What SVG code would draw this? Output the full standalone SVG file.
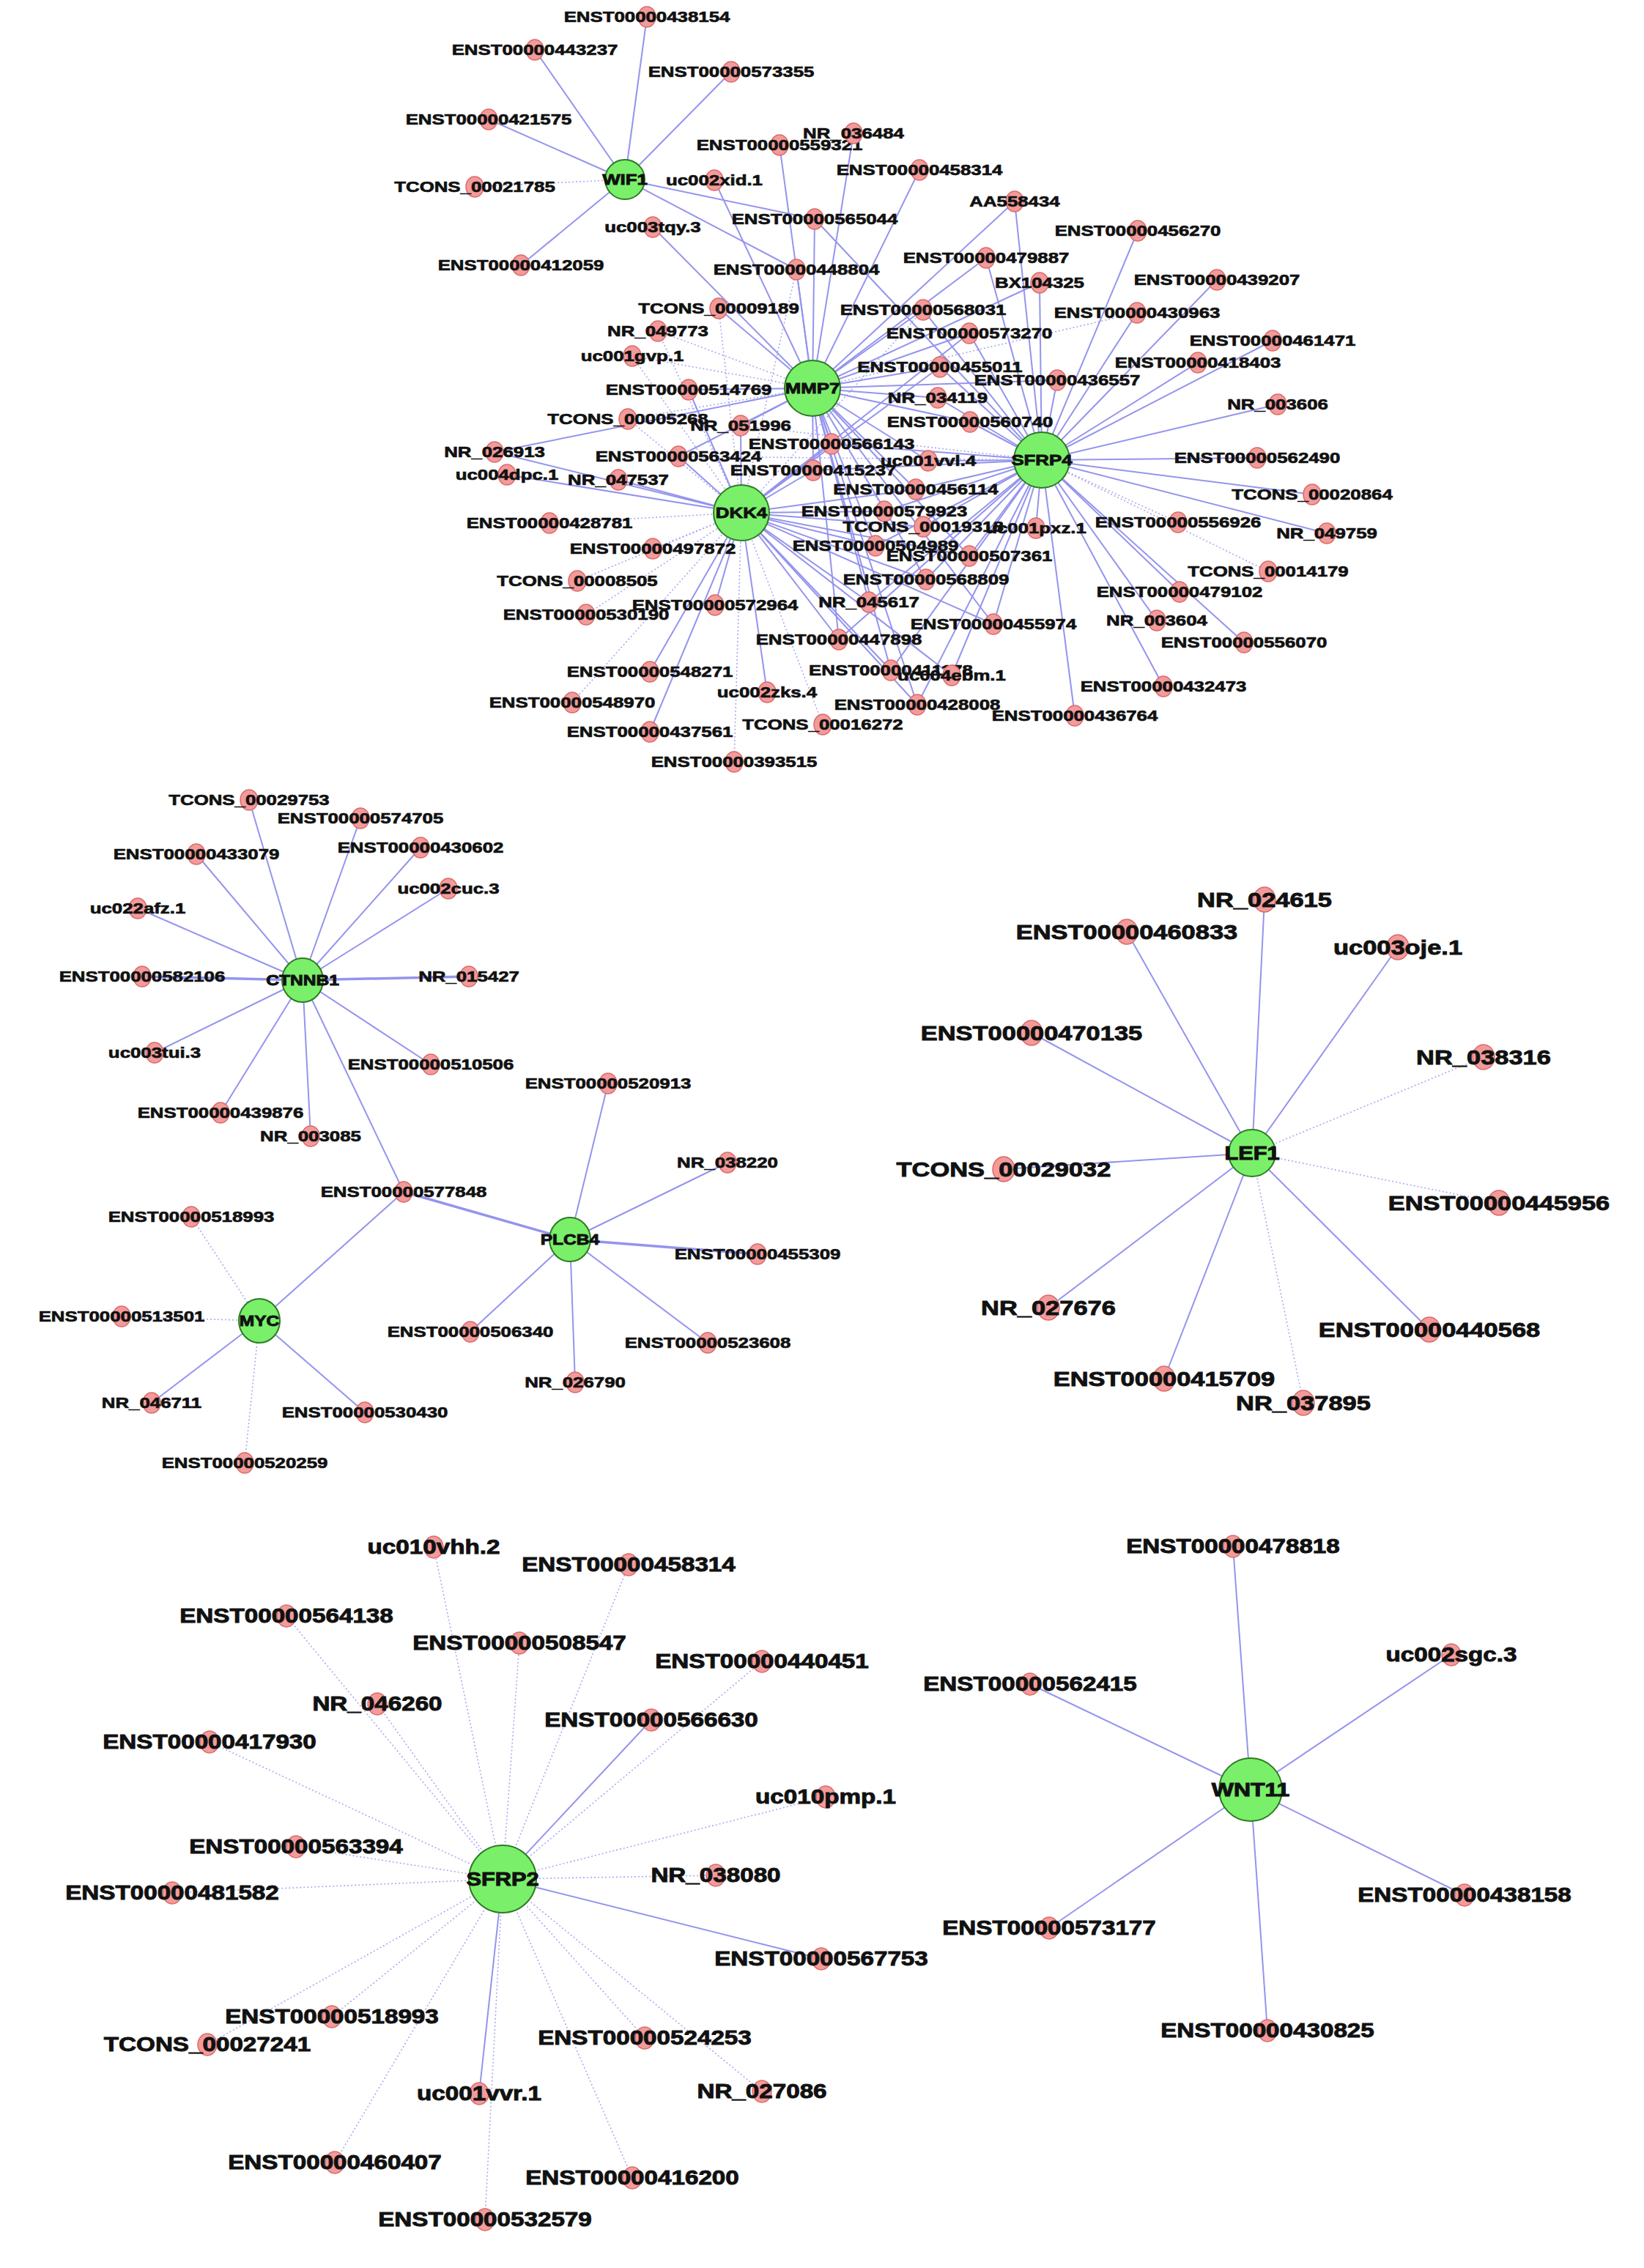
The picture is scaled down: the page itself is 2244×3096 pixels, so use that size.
<svg xmlns="http://www.w3.org/2000/svg" width="2244" height="3096" viewBox="0 0 2244 3096">
<style>
.e{stroke:#9494ee;stroke-width:2;fill:none}
.d{stroke:#a9a9f0;stroke-width:1.6;stroke-dasharray:2 3;fill:none}
.t{stroke-width:3.5}
.r{fill:#f39a9a;stroke:#dc6a6a;stroke-width:1.5}
.g{fill:#7af06a;stroke:#2e7a24;stroke-width:2}
text{font-family:"Liberation Sans",Arial,sans-serif;font-weight:bold;fill:#111;stroke:#111;stroke-width:0.7px;text-anchor:middle;transform-box:fill-box;transform-origin:center;transform:scaleX(1.23)}
.s1{font-size:21px}.s2{font-size:27px;stroke-width:0.9px}.s3{font-size:28px;stroke-width:0.9px}.h1{font-size:21px;stroke-width:0.9px}.h2{font-size:25px;stroke-width:1px}
</style>
<rect width="2244" height="3096" fill="#ffffff"/>
<g id="connectors">
<!-- WIF1 -->
<line class="e" x1="853" y1="245" x2="883" y2="23"/>
<line class="e" x1="853" y1="245" x2="730" y2="68"/>
<line class="e" x1="853" y1="245" x2="998" y2="98"/>
<line class="e" x1="853" y1="245" x2="667" y2="163"/>
<line class="d" x1="853" y1="245" x2="648" y2="255"/>
<line class="e" x1="853" y1="245" x2="711" y2="362"/>
<line class="e" x1="853" y1="245" x2="1112" y2="299"/>
<line class="e" x1="853" y1="245" x2="1087" y2="368"/>
<!-- MMP7 -->
<line class="e" x1="1109" y1="530" x2="975" y2="246"/>
<line class="e" x1="1109" y1="530" x2="891" y2="310"/>
<line class="e" x1="1109" y1="530" x2="1064" y2="198"/>
<line class="e" x1="1109" y1="530" x2="1165" y2="182"/>
<line class="e" x1="1109" y1="530" x2="1112" y2="299"/>
<line class="e" x1="1109" y1="530" x2="1087" y2="368"/>
<line class="e" x1="1109" y1="530" x2="1255" y2="232"/>
<line class="e" x1="1109" y1="530" x2="1385" y2="275"/>
<line class="e" x1="1109" y1="530" x2="1346" y2="352"/>
<line class="e" x1="1109" y1="530" x2="1419" y2="386"/>
<line class="e" x1="1109" y1="530" x2="981" y2="421"/>
<line class="d" x1="1109" y1="530" x2="898" y2="452"/>
<line class="d" x1="1109" y1="530" x2="863" y2="486"/>
<line class="e" x1="1109" y1="530" x2="940" y2="532"/>
<line class="d" x1="1109" y1="530" x2="857" y2="572"/>
<line class="e" x1="1109" y1="530" x2="1011" y2="581"/>
<line class="e" x1="1109" y1="530" x2="675" y2="617"/>
<line class="e" x1="1109" y1="530" x2="926" y2="623"/>
<line class="e" x1="1109" y1="530" x2="1260" y2="423"/>
<line class="e" x1="1109" y1="530" x2="1323" y2="455"/>
<line class="e" x1="1109" y1="530" x2="1283" y2="501"/>
<line class="e" x1="1109" y1="530" x2="1443" y2="519"/>
<line class="e" x1="1109" y1="530" x2="1280" y2="543"/>
<line class="e" x1="1109" y1="530" x2="1324" y2="576"/>
<line class="e" x1="1109" y1="530" x2="1135" y2="606"/>
<line class="e" x1="1109" y1="530" x2="1267" y2="629"/>
<line class="e" x1="1109" y1="530" x2="1110" y2="642"/>
<line class="e" x1="1109" y1="530" x2="1250" y2="668"/>
<line class="e" x1="1109" y1="530" x2="1195" y2="745"/>
<line class="e" x1="1109" y1="530" x2="1323" y2="759"/>
<line class="e" x1="1109" y1="530" x2="1264" y2="791"/>
<line class="e" x1="1109" y1="530" x2="1186" y2="822"/>
<line class="e" x1="1109" y1="530" x2="1356" y2="852"/>
<line class="e" x1="1109" y1="530" x2="1145" y2="873"/>
<line class="e" x1="1109" y1="530" x2="1216" y2="915"/>
<line class="e" x1="1109" y1="530" x2="1252" y2="962"/>
<line class="d" x1="1109" y1="530" x2="1552" y2="427"/>
<line class="d" x1="1109" y1="530" x2="1207" y2="698"/>
<!-- SFRP4 -->
<line class="e" x1="1422" y1="628" x2="1112" y2="299"/>
<line class="e" x1="1422" y1="628" x2="1385" y2="275"/>
<line class="e" x1="1422" y1="628" x2="1553" y2="315"/>
<line class="e" x1="1422" y1="628" x2="1346" y2="352"/>
<line class="e" x1="1422" y1="628" x2="1419" y2="386"/>
<line class="e" x1="1422" y1="628" x2="1661" y2="382"/>
<line class="e" x1="1422" y1="628" x2="1260" y2="423"/>
<line class="e" x1="1422" y1="628" x2="1552" y2="427"/>
<line class="e" x1="1422" y1="628" x2="1323" y2="455"/>
<line class="e" x1="1422" y1="628" x2="1737" y2="465"/>
<line class="e" x1="1422" y1="628" x2="1635" y2="495"/>
<line class="e" x1="1422" y1="628" x2="1283" y2="501"/>
<line class="e" x1="1422" y1="628" x2="1443" y2="519"/>
<line class="e" x1="1422" y1="628" x2="1280" y2="543"/>
<line class="e" x1="1422" y1="628" x2="1744" y2="552"/>
<line class="e" x1="1422" y1="628" x2="1324" y2="576"/>
<line class="e" x1="1422" y1="628" x2="1135" y2="606"/>
<line class="e" x1="1422" y1="628" x2="1267" y2="629"/>
<line class="e" x1="1422" y1="628" x2="1716" y2="625"/>
<line class="e" x1="1422" y1="628" x2="1110" y2="642"/>
<line class="e" x1="1422" y1="628" x2="1250" y2="668"/>
<line class="e" x1="1422" y1="628" x2="1791" y2="675"/>
<line class="e" x1="1422" y1="628" x2="1207" y2="698"/>
<line class="e" x1="1422" y1="628" x2="1260" y2="719"/>
<line class="e" x1="1422" y1="628" x2="1414" y2="721"/>
<line class="d" x1="1422" y1="628" x2="1608" y2="713"/>
<line class="e" x1="1422" y1="628" x2="1811" y2="728"/>
<line class="e" x1="1422" y1="628" x2="1195" y2="745"/>
<line class="e" x1="1422" y1="628" x2="1323" y2="759"/>
<line class="e" x1="1422" y1="628" x2="1264" y2="791"/>
<line class="d" x1="1422" y1="628" x2="1731" y2="780"/>
<line class="e" x1="1422" y1="628" x2="1610" y2="808"/>
<line class="e" x1="1422" y1="628" x2="1186" y2="822"/>
<line class="e" x1="1422" y1="628" x2="1579" y2="847"/>
<line class="e" x1="1422" y1="628" x2="1356" y2="852"/>
<line class="e" x1="1422" y1="628" x2="1145" y2="873"/>
<line class="e" x1="1422" y1="628" x2="1698" y2="877"/>
<line class="e" x1="1422" y1="628" x2="1216" y2="915"/>
<line class="e" x1="1422" y1="628" x2="1299" y2="922"/>
<line class="e" x1="1422" y1="628" x2="1252" y2="962"/>
<line class="e" x1="1422" y1="628" x2="1588" y2="937"/>
<line class="e" x1="1422" y1="628" x2="1467" y2="977"/>
<line class="d" x1="1422" y1="628" x2="926" y2="623"/>
<line class="d" x1="1422" y1="628" x2="1011" y2="581"/>
<!-- DKK4 -->
<line class="d" x1="1012" y1="700" x2="981" y2="421"/>
<line class="d" x1="1012" y1="700" x2="898" y2="452"/>
<line class="d" x1="1012" y1="700" x2="863" y2="486"/>
<line class="e" x1="1012" y1="700" x2="940" y2="532"/>
<line class="d" x1="1012" y1="700" x2="857" y2="572"/>
<line class="e" x1="1012" y1="700" x2="1011" y2="581"/>
<line class="e" x1="1012" y1="700" x2="675" y2="617"/>
<line class="e" x1="1012" y1="700" x2="926" y2="623"/>
<line class="e" x1="1012" y1="700" x2="692" y2="648"/>
<line class="e" x1="1012" y1="700" x2="844" y2="655"/>
<line class="d" x1="1012" y1="700" x2="750" y2="714"/>
<line class="e" x1="1012" y1="700" x2="1135" y2="606"/>
<line class="e" x1="1012" y1="700" x2="1110" y2="642"/>
<line class="e" x1="1012" y1="700" x2="1250" y2="668"/>
<line class="e" x1="1012" y1="700" x2="1207" y2="698"/>
<line class="e" x1="1012" y1="700" x2="1260" y2="719"/>
<line class="e" x1="1012" y1="700" x2="1195" y2="745"/>
<line class="e" x1="1012" y1="700" x2="1323" y2="759"/>
<line class="d" x1="1012" y1="700" x2="891" y2="749"/>
<line class="d" x1="1012" y1="700" x2="788" y2="793"/>
<line class="e" x1="1012" y1="700" x2="1264" y2="791"/>
<line class="e" x1="1012" y1="700" x2="1186" y2="822"/>
<line class="e" x1="1012" y1="700" x2="976" y2="826"/>
<line class="d" x1="1012" y1="700" x2="800" y2="839"/>
<line class="e" x1="1012" y1="700" x2="1356" y2="852"/>
<line class="e" x1="1012" y1="700" x2="1145" y2="873"/>
<line class="e" x1="1012" y1="700" x2="1216" y2="915"/>
<line class="e" x1="1012" y1="700" x2="1299" y2="922"/>
<line class="e" x1="1012" y1="700" x2="887" y2="917"/>
<line class="e" x1="1012" y1="700" x2="1047" y2="945"/>
<line class="d" x1="1012" y1="700" x2="781" y2="959"/>
<line class="e" x1="1012" y1="700" x2="1252" y2="962"/>
<line class="e" x1="1012" y1="700" x2="887" y2="999"/>
<line class="d" x1="1012" y1="700" x2="1123" y2="989"/>
<line class="d" x1="1012" y1="700" x2="1002" y2="1040"/>
<line class="e" x1="1012" y1="700" x2="1283" y2="501"/>
<line class="e" x1="1012" y1="700" x2="1323" y2="455"/>
<line class="d" x1="1012" y1="700" x2="1260" y2="423"/>
<line class="d" x1="1012" y1="700" x2="1087" y2="368"/>
<!-- CTNNB1 / PLCB4 / MYC -->
<line class="e" x1="413" y1="1338" x2="340" y2="1092"/>
<line class="e" x1="413" y1="1338" x2="492" y2="1117"/>
<line class="e" x1="413" y1="1338" x2="268" y2="1166"/>
<line class="e" x1="413" y1="1338" x2="574" y2="1157"/>
<line class="e" x1="413" y1="1338" x2="612" y2="1213"/>
<line class="e" x1="413" y1="1338" x2="188" y2="1240"/>
<line class="e t" x1="413" y1="1338" x2="194" y2="1333"/>
<line class="e t" x1="413" y1="1338" x2="640" y2="1333"/>
<line class="e" x1="413" y1="1338" x2="211" y2="1437"/>
<line class="e" x1="413" y1="1338" x2="588" y2="1453"/>
<line class="e" x1="413" y1="1338" x2="301" y2="1519"/>
<line class="e" x1="413" y1="1338" x2="424" y2="1551"/>
<line class="e" x1="413" y1="1338" x2="551" y2="1627"/>
<line class="e t" x1="551" y1="1627" x2="778" y2="1692"/>
<line class="e" x1="551" y1="1627" x2="354" y2="1803"/>
<line class="e" x1="778" y1="1692" x2="830" y2="1479"/>
<line class="e" x1="778" y1="1692" x2="993" y2="1587"/>
<line class="e t" x1="778" y1="1692" x2="1034" y2="1712"/>
<line class="e" x1="778" y1="1692" x2="642" y2="1818"/>
<line class="e" x1="778" y1="1692" x2="785" y2="1887"/>
<line class="e" x1="778" y1="1692" x2="966" y2="1833"/>
<line class="d" x1="354" y1="1803" x2="261" y2="1661"/>
<line class="d" x1="354" y1="1803" x2="166" y2="1797"/>
<line class="e" x1="354" y1="1803" x2="207" y2="1915"/>
<line class="e" x1="354" y1="1803" x2="498" y2="1928"/>
<line class="d" x1="354" y1="1803" x2="334" y2="1997"/>
<!-- LEF1 -->
<line class="e" x1="1709" y1="1574" x2="1726" y2="1228"/>
<line class="e" x1="1709" y1="1574" x2="1538" y2="1272"/>
<line class="e" x1="1709" y1="1574" x2="1908" y2="1293"/>
<line class="e" x1="1709" y1="1574" x2="1408" y2="1410"/>
<line class="d" x1="1709" y1="1574" x2="2025" y2="1443"/>
<line class="e" x1="1709" y1="1574" x2="1370" y2="1596"/>
<line class="d" x1="1709" y1="1574" x2="2046" y2="1642"/>
<line class="e" x1="1709" y1="1574" x2="1431" y2="1785"/>
<line class="e" x1="1709" y1="1574" x2="1951" y2="1815"/>
<line class="e" x1="1709" y1="1574" x2="1589" y2="1882"/>
<line class="d" x1="1709" y1="1574" x2="1779" y2="1915"/>
<!-- SFRP2 -->
<line class="d" x1="686" y1="2565" x2="592" y2="2112"/>
<line class="d" x1="686" y1="2565" x2="858" y2="2136"/>
<line class="d" x1="686" y1="2565" x2="391" y2="2206"/>
<line class="d" x1="686" y1="2565" x2="709" y2="2243"/>
<line class="d" x1="686" y1="2565" x2="1040" y2="2268"/>
<line class="d" x1="686" y1="2565" x2="515" y2="2326"/>
<line class="e" x1="686" y1="2565" x2="889" y2="2348"/>
<line class="d" x1="686" y1="2565" x2="286" y2="2378"/>
<line class="d" x1="686" y1="2565" x2="1127" y2="2453"/>
<line class="d" x1="686" y1="2565" x2="404" y2="2521"/>
<line class="d" x1="686" y1="2565" x2="977" y2="2560"/>
<line class="d" x1="686" y1="2565" x2="235" y2="2584"/>
<line class="e" x1="686" y1="2565" x2="1121" y2="2674"/>
<line class="d" x1="686" y1="2565" x2="453" y2="2753"/>
<line class="d" x1="686" y1="2565" x2="283" y2="2791"/>
<line class="d" x1="686" y1="2565" x2="880" y2="2782"/>
<line class="d" x1="686" y1="2565" x2="1040" y2="2855"/>
<line class="e" x1="686" y1="2565" x2="654" y2="2858"/>
<line class="d" x1="686" y1="2565" x2="457" y2="2952"/>
<line class="d" x1="686" y1="2565" x2="863" y2="2973"/>
<line class="d" x1="686" y1="2565" x2="662" y2="3030"/>
<!-- WNT11 -->
<line class="e" x1="1707" y1="2443" x2="1683" y2="2111"/>
<line class="e" x1="1707" y1="2443" x2="1981" y2="2259"/>
<line class="e" x1="1707" y1="2443" x2="1406" y2="2299"/>
<line class="e" x1="1707" y1="2443" x2="1999" y2="2587"/>
<line class="e" x1="1707" y1="2443" x2="1432" y2="2632"/>
<line class="e" x1="1707" y1="2443" x2="1730" y2="2772"/>
</g>
<!-- TOP CLUSTER NODES -->
<g id="t-ENST00000438154"><ellipse class="r" cx="883" cy="23" rx="12" ry="14"/><text class="s1" x="883" y="30">ENST00000438154</text></g>
<g id="t-ENST00000443237"><ellipse class="r" cx="730" cy="68" rx="12" ry="14"/><text class="s1" x="730" y="75">ENST00000443237</text></g>
<g id="t-ENST00000573355"><ellipse class="r" cx="998" cy="98" rx="12" ry="14"/><text class="s1" x="998" y="105">ENST00000573355</text></g>
<g id="t-ENST00000421575"><ellipse class="r" cx="667" cy="163" rx="12" ry="14"/><text class="s1" x="667" y="170">ENST00000421575</text></g>
<g id="t-TCONS_00021785"><ellipse class="r" cx="648" cy="255" rx="12" ry="14"/><text class="s1" x="648" y="262">TCONS_00021785</text></g>
<g id="t-ENST00000412059"><ellipse class="r" cx="711" cy="362" rx="12" ry="14"/><text class="s1" x="711" y="369">ENST00000412059</text></g>
<g id="t-uc002xid.1"><ellipse class="r" cx="975" cy="246" rx="12" ry="14"/><text class="s1" x="975" y="253">uc002xid.1</text></g>
<g id="t-uc003tqy.3"><ellipse class="r" cx="891" cy="310" rx="12" ry="14"/><text class="s1" x="891" y="317">uc003tqy.3</text></g>
<g id="t-ENST00000559321"><ellipse class="r" cx="1064" cy="198" rx="12" ry="14"/><text class="s1" x="1064" y="205">ENST00000559321</text></g>
<g id="t-NR_036484"><ellipse class="r" cx="1165" cy="182" rx="12" ry="14"/><text class="s1" x="1165" y="189">NR_036484</text></g>
<g id="t-ENST00000565044"><ellipse class="r" cx="1112" cy="299" rx="12" ry="14"/><text class="s1" x="1112" y="306">ENST00000565044</text></g>
<g id="t-ENST00000448804"><ellipse class="r" cx="1087" cy="368" rx="12" ry="14"/><text class="s1" x="1087" y="375">ENST00000448804</text></g>
<g id="t-ENST00000458314"><ellipse class="r" cx="1255" cy="232" rx="12" ry="14"/><text class="s1" x="1255" y="239">ENST00000458314</text></g>
<g id="t-AA558434"><ellipse class="r" cx="1385" cy="275" rx="12" ry="14"/><text class="s1" x="1385" y="282">AA558434</text></g>
<g id="t-ENST00000456270"><ellipse class="r" cx="1553" cy="315" rx="12" ry="14"/><text class="s1" x="1553" y="322">ENST00000456270</text></g>
<g id="t-ENST00000479887"><ellipse class="r" cx="1346" cy="352" rx="12" ry="14"/><text class="s1" x="1346" y="359">ENST00000479887</text></g>
<g id="t-BX104325"><ellipse class="r" cx="1419" cy="386" rx="12" ry="14"/><text class="s1" x="1419" y="393">BX104325</text></g>
<g id="t-ENST00000439207"><ellipse class="r" cx="1661" cy="382" rx="12" ry="14"/><text class="s1" x="1661" y="389">ENST00000439207</text></g>
<g id="t-TCONS_00009189"><ellipse class="r" cx="981" cy="421" rx="12" ry="14"/><text class="s1" x="981" y="428">TCONS_00009189</text></g>
<g id="t-NR_049773"><ellipse class="r" cx="898" cy="452" rx="12" ry="14"/><text class="s1" x="898" y="459">NR_049773</text></g>
<g id="t-uc001gvp.1"><ellipse class="r" cx="863" cy="486" rx="12" ry="14"/><text class="s1" x="863" y="493">uc001gvp.1</text></g>
<g id="t-ENST00000514769"><ellipse class="r" cx="940" cy="532" rx="12" ry="14"/><text class="s1" x="940" y="539">ENST00000514769</text></g>
<g id="t-TCONS_00005268"><ellipse class="r" cx="857" cy="572" rx="12" ry="14"/><text class="s1" x="857" y="579">TCONS_00005268</text></g>
<g id="t-NR_051996"><ellipse class="r" cx="1011" cy="581" rx="12" ry="14"/><text class="s1" x="1011" y="588">NR_051996</text></g>
<g id="t-NR_026913"><ellipse class="r" cx="675" cy="617" rx="12" ry="14"/><text class="s1" x="675" y="624">NR_026913</text></g>
<g id="t-ENST00000563424"><ellipse class="r" cx="926" cy="623" rx="12" ry="14"/><text class="s1" x="926" y="630">ENST00000563424</text></g>
<g id="t-uc004dpc.1"><ellipse class="r" cx="692" cy="648" rx="12" ry="14"/><text class="s1" x="692" y="655">uc004dpc.1</text></g>
<g id="t-NR_047537"><ellipse class="r" cx="844" cy="655" rx="12" ry="14"/><text class="s1" x="844" y="662">NR_047537</text></g>
<g id="t-ENST00000428781"><ellipse class="r" cx="750" cy="714" rx="12" ry="14"/><text class="s1" x="750" y="721">ENST00000428781</text></g>
<g id="t-ENST00000568031"><ellipse class="r" cx="1260" cy="423" rx="12" ry="14"/><text class="s1" x="1260" y="430">ENST00000568031</text></g>
<g id="t-ENST00000430963"><ellipse class="r" cx="1552" cy="427" rx="12" ry="14"/><text class="s1" x="1552" y="434">ENST00000430963</text></g>
<g id="t-ENST00000573270"><ellipse class="r" cx="1323" cy="455" rx="12" ry="14"/><text class="s1" x="1323" y="462">ENST00000573270</text></g>
<g id="t-ENST00000461471"><ellipse class="r" cx="1737" cy="465" rx="12" ry="14"/><text class="s1" x="1737" y="472">ENST00000461471</text></g>
<g id="t-ENST00000418403"><ellipse class="r" cx="1635" cy="495" rx="12" ry="14"/><text class="s1" x="1635" y="502">ENST00000418403</text></g>
<g id="t-ENST00000455011"><ellipse class="r" cx="1283" cy="501" rx="12" ry="14"/><text class="s1" x="1283" y="508">ENST00000455011</text></g>
<g id="t-ENST00000436557"><ellipse class="r" cx="1443" cy="519" rx="12" ry="14"/><text class="s1" x="1443" y="526">ENST00000436557</text></g>
<g id="t-NR_034119"><ellipse class="r" cx="1280" cy="543" rx="12" ry="14"/><text class="s1" x="1280" y="550">NR_034119</text></g>
<g id="t-NR_003606"><ellipse class="r" cx="1744" cy="552" rx="12" ry="14"/><text class="s1" x="1744" y="559">NR_003606</text></g>
<g id="t-ENST00000560740"><ellipse class="r" cx="1324" cy="576" rx="12" ry="14"/><text class="s1" x="1324" y="583">ENST00000560740</text></g>
<g id="t-ENST00000566143"><ellipse class="r" cx="1135" cy="606" rx="12" ry="14"/><text class="s1" x="1135" y="613">ENST00000566143</text></g>
<g id="t-uc001vvl.4"><ellipse class="r" cx="1267" cy="629" rx="12" ry="14"/><text class="s1" x="1267" y="636">uc001vvl.4</text></g>
<g id="t-ENST00000562490"><ellipse class="r" cx="1716" cy="625" rx="12" ry="14"/><text class="s1" x="1716" y="632">ENST00000562490</text></g>
<g id="t-ENST00000415237"><ellipse class="r" cx="1110" cy="642" rx="12" ry="14"/><text class="s1" x="1110" y="649">ENST00000415237</text></g>
<g id="t-ENST00000456114"><ellipse class="r" cx="1250" cy="668" rx="12" ry="14"/><text class="s1" x="1250" y="675">ENST00000456114</text></g>
<g id="t-TCONS_00020864"><ellipse class="r" cx="1791" cy="675" rx="12" ry="14"/><text class="s1" x="1791" y="682">TCONS_00020864</text></g>
<g id="t-ENST00000579923"><ellipse class="r" cx="1207" cy="698" rx="12" ry="14"/><text class="s1" x="1207" y="705">ENST00000579923</text></g>
<g id="t-TCONS_00019318"><ellipse class="r" cx="1260" cy="719" rx="12" ry="14"/><text class="s1" x="1260" y="726">TCONS_00019318</text></g>
<g id="t-uc001pxz.1"><ellipse class="r" cx="1414" cy="721" rx="12" ry="14"/><text class="s1" x="1414" y="728">uc001pxz.1</text></g>
<g id="t-ENST00000556926"><ellipse class="r" cx="1608" cy="713" rx="12" ry="14"/><text class="s1" x="1608" y="720">ENST00000556926</text></g>
<g id="t-NR_049759"><ellipse class="r" cx="1811" cy="728" rx="12" ry="14"/><text class="s1" x="1811" y="735">NR_049759</text></g>
<g id="t-ENST00000504989"><ellipse class="r" cx="1195" cy="745" rx="12" ry="14"/><text class="s1" x="1195" y="752">ENST00000504989</text></g>
<g id="t-ENST00000507361"><ellipse class="r" cx="1323" cy="759" rx="12" ry="14"/><text class="s1" x="1323" y="766">ENST00000507361</text></g>
<g id="t-ENST00000497872"><ellipse class="r" cx="891" cy="749" rx="12" ry="14"/><text class="s1" x="891" y="756">ENST00000497872</text></g>
<g id="t-TCONS_00008505"><ellipse class="r" cx="788" cy="793" rx="12" ry="14"/><text class="s1" x="788" y="800">TCONS_00008505</text></g>
<g id="t-ENST00000568809"><ellipse class="r" cx="1264" cy="791" rx="12" ry="14"/><text class="s1" x="1264" y="798">ENST00000568809</text></g>
<g id="t-TCONS_00014179"><ellipse class="r" cx="1731" cy="780" rx="12" ry="14"/><text class="s1" x="1731" y="787">TCONS_00014179</text></g>
<g id="t-ENST00000479102"><ellipse class="r" cx="1610" cy="808" rx="12" ry="14"/><text class="s1" x="1610" y="815">ENST00000479102</text></g>
<g id="t-NR_045617"><ellipse class="r" cx="1186" cy="822" rx="12" ry="14"/><text class="s1" x="1186" y="829">NR_045617</text></g>
<g id="t-ENST00000572964"><ellipse class="r" cx="976" cy="826" rx="12" ry="14"/><text class="s1" x="976" y="833">ENST00000572964</text></g>
<g id="t-ENST00000530190"><ellipse class="r" cx="800" cy="839" rx="12" ry="14"/><text class="s1" x="800" y="846">ENST00000530190</text></g>
<g id="t-NR_003604"><ellipse class="r" cx="1579" cy="847" rx="12" ry="14"/><text class="s1" x="1579" y="854">NR_003604</text></g>
<g id="t-ENST00000455974"><ellipse class="r" cx="1356" cy="852" rx="12" ry="14"/><text class="s1" x="1356" y="859">ENST00000455974</text></g>
<g id="t-ENST00000447898"><ellipse class="r" cx="1145" cy="873" rx="12" ry="14"/><text class="s1" x="1145" y="880">ENST00000447898</text></g>
<g id="t-ENST00000556070"><ellipse class="r" cx="1698" cy="877" rx="12" ry="14"/><text class="s1" x="1698" y="884">ENST00000556070</text></g>
<g id="t-ENST00000411178"><ellipse class="r" cx="1216" cy="915" rx="12" ry="14"/><text class="s1" x="1216" y="922">ENST00000411178</text></g>
<g id="t-uc004ebm.1"><ellipse class="r" cx="1299" cy="922" rx="12" ry="14"/><text class="s1" x="1299" y="929">uc004ebm.1</text></g>
<g id="t-ENST00000548271"><ellipse class="r" cx="887" cy="917" rx="12" ry="14"/><text class="s1" x="887" y="924">ENST00000548271</text></g>
<g id="t-uc002zks.4"><ellipse class="r" cx="1047" cy="945" rx="12" ry="14"/><text class="s1" x="1047" y="952">uc002zks.4</text></g>
<g id="t-ENST00000548970"><ellipse class="r" cx="781" cy="959" rx="12" ry="14"/><text class="s1" x="781" y="966">ENST00000548970</text></g>
<g id="t-ENST00000428008"><ellipse class="r" cx="1252" cy="962" rx="12" ry="14"/><text class="s1" x="1252" y="969">ENST00000428008</text></g>
<g id="t-ENST00000432473"><ellipse class="r" cx="1588" cy="937" rx="12" ry="14"/><text class="s1" x="1588" y="944">ENST00000432473</text></g>
<g id="t-ENST00000436764"><ellipse class="r" cx="1467" cy="977" rx="12" ry="14"/><text class="s1" x="1467" y="984">ENST00000436764</text></g>
<g id="t-ENST00000437561"><ellipse class="r" cx="887" cy="999" rx="12" ry="14"/><text class="s1" x="887" y="1006">ENST00000437561</text></g>
<g id="t-TCONS_00016272"><ellipse class="r" cx="1123" cy="989" rx="12" ry="14"/><text class="s1" x="1123" y="996">TCONS_00016272</text></g>
<g id="t-ENST00000393515"><ellipse class="r" cx="1002" cy="1040" rx="12" ry="14"/><text class="s1" x="1002" y="1047">ENST00000393515</text></g>
<g id="t-WIF1"><circle class="g" cx="853" cy="245" r="27"/><text class="h1" x="853" y="252">WIF1</text></g>
<g id="t-MMP7"><circle class="g" cx="1109" cy="530" r="38"/><text class="h1" x="1109" y="537">MMP7</text></g>
<g id="t-DKK4"><circle class="g" cx="1012" cy="700" r="38"/><text class="h1" x="1012" y="707">DKK4</text></g>
<g id="t-SFRP4"><circle class="g" cx="1422" cy="628" r="38"/><text class="h1" x="1422" y="635">SFRP4</text></g>
<!-- MIDDLE LEFT -->
<g id="m-TCONS_00029753"><ellipse class="r" cx="340" cy="1092" rx="12" ry="14"/><text class="s1" x="340" y="1099">TCONS_00029753</text></g>
<g id="m-ENST00000574705"><ellipse class="r" cx="492" cy="1117" rx="12" ry="14"/><text class="s1" x="492" y="1124">ENST00000574705</text></g>
<g id="m-ENST00000433079"><ellipse class="r" cx="268" cy="1166" rx="12" ry="14"/><text class="s1" x="268" y="1173">ENST00000433079</text></g>
<g id="m-ENST00000430602"><ellipse class="r" cx="574" cy="1157" rx="12" ry="14"/><text class="s1" x="574" y="1164">ENST00000430602</text></g>
<g id="m-uc002cuc.3"><ellipse class="r" cx="612" cy="1213" rx="12" ry="14"/><text class="s1" x="612" y="1220">uc002cuc.3</text></g>
<g id="m-uc022afz.1"><ellipse class="r" cx="188" cy="1240" rx="12" ry="14"/><text class="s1" x="188" y="1247">uc022afz.1</text></g>
<g id="m-ENST00000582106"><ellipse class="r" cx="194" cy="1333" rx="12" ry="14"/><text class="s1" x="194" y="1340">ENST00000582106</text></g>
<g id="m-NR_015427"><ellipse class="r" cx="640" cy="1333" rx="12" ry="14"/><text class="s1" x="640" y="1340">NR_015427</text></g>
<g id="m-uc003tui.3"><ellipse class="r" cx="211" cy="1437" rx="12" ry="14"/><text class="s1" x="211" y="1444">uc003tui.3</text></g>
<g id="m-ENST00000510506"><ellipse class="r" cx="588" cy="1453" rx="12" ry="14"/><text class="s1" x="588" y="1460">ENST00000510506</text></g>
<g id="m-ENST00000439876"><ellipse class="r" cx="301" cy="1519" rx="12" ry="14"/><text class="s1" x="301" y="1526">ENST00000439876</text></g>
<g id="m-NR_003085"><ellipse class="r" cx="424" cy="1551" rx="12" ry="14"/><text class="s1" x="424" y="1558">NR_003085</text></g>
<g id="m-ENST00000577848"><ellipse class="r" cx="551" cy="1627" rx="12" ry="14"/><text class="s1" x="551" y="1634">ENST00000577848</text></g>
<g id="m-ENST00000520913"><ellipse class="r" cx="830" cy="1479" rx="12" ry="14"/><text class="s1" x="830" y="1486">ENST00000520913</text></g>
<g id="m-NR_038220"><ellipse class="r" cx="993" cy="1587" rx="12" ry="14"/><text class="s1" x="993" y="1594">NR_038220</text></g>
<g id="m-ENST00000455309"><ellipse class="r" cx="1034" cy="1712" rx="12" ry="14"/><text class="s1" x="1034" y="1719">ENST00000455309</text></g>
<g id="m-ENST00000518993"><ellipse class="r" cx="261" cy="1661" rx="12" ry="14"/><text class="s1" x="261" y="1668">ENST00000518993</text></g>
<g id="m-ENST00000513501"><ellipse class="r" cx="166" cy="1797" rx="12" ry="14"/><text class="s1" x="166" y="1804">ENST00000513501</text></g>
<g id="m-ENST00000506340"><ellipse class="r" cx="642" cy="1818" rx="12" ry="14"/><text class="s1" x="642" y="1825">ENST00000506340</text></g>
<g id="m-ENST00000523608"><ellipse class="r" cx="966" cy="1833" rx="12" ry="14"/><text class="s1" x="966" y="1840">ENST00000523608</text></g>
<g id="m-NR_026790"><ellipse class="r" cx="785" cy="1887" rx="12" ry="14"/><text class="s1" x="785" y="1894">NR_026790</text></g>
<g id="m-NR_046711"><ellipse class="r" cx="207" cy="1915" rx="12" ry="14"/><text class="s1" x="207" y="1922">NR_046711</text></g>
<g id="m-ENST00000530430"><ellipse class="r" cx="498" cy="1928" rx="12" ry="14"/><text class="s1" x="498" y="1935">ENST00000530430</text></g>
<g id="m-ENST00000520259"><ellipse class="r" cx="334" cy="1997" rx="12" ry="14"/><text class="s1" x="334" y="2004">ENST00000520259</text></g>
<g id="m-CTNNB1"><ellipse class="g" cx="413" cy="1338" rx="28" ry="30"/><text class="h1" x="413" y="1345" style="font-size:20px">CTNNB1</text></g>
<g id="m-PLCB4"><ellipse class="g" cx="778" cy="1692" rx="28" ry="30"/><text class="h1" x="778" y="1699" style="font-size:20px">PLCB4</text></g>
<g id="m-MYC"><ellipse class="g" cx="354" cy="1803" rx="28" ry="30"/><text class="h1" x="354" y="1810" style="font-size:20px">MYC</text></g>
<!-- LEF1 -->
<g id="r-NR_024615"><ellipse class="r" cx="1726" cy="1228" rx="15" ry="17"/><text class="s3" x="1726" y="1238">NR_024615</text></g>
<g id="r-ENST00000460833"><ellipse class="r" cx="1538" cy="1272" rx="15" ry="17"/><text class="s3" x="1538" y="1282">ENST00000460833</text></g>
<g id="r-uc003oje.1"><ellipse class="r" cx="1908" cy="1293" rx="15" ry="17"/><text class="s3" x="1908" y="1303">uc003oje.1</text></g>
<g id="r-ENST00000470135"><ellipse class="r" cx="1408" cy="1410" rx="15" ry="17"/><text class="s3" x="1408" y="1420">ENST00000470135</text></g>
<g id="r-NR_038316"><ellipse class="r" cx="2025" cy="1443" rx="15" ry="17"/><text class="s3" x="2025" y="1453">NR_038316</text></g>
<g id="r-TCONS_00029032"><ellipse class="r" cx="1370" cy="1596" rx="15" ry="17"/><text class="s3" x="1370" y="1606">TCONS_00029032</text></g>
<g id="r-ENST00000445956"><ellipse class="r" cx="2046" cy="1642" rx="15" ry="17"/><text class="s3" x="2046" y="1652">ENST00000445956</text></g>
<g id="r-NR_027676"><ellipse class="r" cx="1431" cy="1785" rx="15" ry="17"/><text class="s3" x="1431" y="1795">NR_027676</text></g>
<g id="r-ENST00000440568"><ellipse class="r" cx="1951" cy="1815" rx="15" ry="17"/><text class="s3" x="1951" y="1825">ENST00000440568</text></g>
<g id="r-ENST00000415709"><ellipse class="r" cx="1589" cy="1882" rx="15" ry="17"/><text class="s3" x="1589" y="1892">ENST00000415709</text></g>
<g id="r-NR_037895"><ellipse class="r" cx="1779" cy="1915" rx="15" ry="17"/><text class="s3" x="1779" y="1925">NR_037895</text></g>
<g id="r-LEF1"><circle class="g" cx="1709" cy="1574" r="32"/><text class="h2" x="1709" y="1583">LEF1</text></g>
<!-- SFRP2 -->
<g id="b-uc010vhh.2"><ellipse class="r" cx="592" cy="2112" rx="13" ry="15"/><text class="s2" x="592" y="2121">uc010vhh.2</text></g>
<g id="b-ENST00000458314"><ellipse class="r" cx="858" cy="2136" rx="13" ry="15"/><text class="s2" x="858" y="2145">ENST00000458314</text></g>
<g id="b-ENST00000564138"><ellipse class="r" cx="391" cy="2206" rx="13" ry="15"/><text class="s2" x="391" y="2215">ENST00000564138</text></g>
<g id="b-ENST00000508547"><ellipse class="r" cx="709" cy="2243" rx="13" ry="15"/><text class="s2" x="709" y="2252">ENST00000508547</text></g>
<g id="b-ENST00000440451"><ellipse class="r" cx="1040" cy="2268" rx="13" ry="15"/><text class="s2" x="1040" y="2277">ENST00000440451</text></g>
<g id="b-NR_046260"><ellipse class="r" cx="515" cy="2326" rx="13" ry="15"/><text class="s2" x="515" y="2335">NR_046260</text></g>
<g id="b-ENST00000566630"><ellipse class="r" cx="889" cy="2348" rx="13" ry="15"/><text class="s2" x="889" y="2357">ENST00000566630</text></g>
<g id="b-ENST00000417930"><ellipse class="r" cx="286" cy="2378" rx="13" ry="15"/><text class="s2" x="286" y="2387">ENST00000417930</text></g>
<g id="b-uc010pmp.1"><ellipse class="r" cx="1127" cy="2453" rx="13" ry="15"/><text class="s2" x="1127" y="2462">uc010pmp.1</text></g>
<g id="b-ENST00000563394"><ellipse class="r" cx="404" cy="2521" rx="13" ry="15"/><text class="s2" x="404" y="2530">ENST00000563394</text></g>
<g id="b-NR_038080"><ellipse class="r" cx="977" cy="2560" rx="13" ry="15"/><text class="s2" x="977" y="2569">NR_038080</text></g>
<g id="b-ENST00000481582"><ellipse class="r" cx="235" cy="2584" rx="13" ry="15"/><text class="s2" x="235" y="2593">ENST00000481582</text></g>
<g id="b-ENST00000567753"><ellipse class="r" cx="1121" cy="2674" rx="13" ry="15"/><text class="s2" x="1121" y="2683">ENST00000567753</text></g>
<g id="b-ENST00000518993"><ellipse class="r" cx="453" cy="2753" rx="13" ry="15"/><text class="s2" x="453" y="2762">ENST00000518993</text></g>
<g id="b-TCONS_00027241"><ellipse class="r" cx="283" cy="2791" rx="13" ry="15"/><text class="s2" x="283" y="2800">TCONS_00027241</text></g>
<g id="b-ENST00000524253"><ellipse class="r" cx="880" cy="2782" rx="13" ry="15"/><text class="s2" x="880" y="2791">ENST00000524253</text></g>
<g id="b-NR_027086"><ellipse class="r" cx="1040" cy="2855" rx="13" ry="15"/><text class="s2" x="1040" y="2864">NR_027086</text></g>
<g id="b-uc001vvr.1"><ellipse class="r" cx="654" cy="2858" rx="13" ry="15"/><text class="s2" x="654" y="2867">uc001vvr.1</text></g>
<g id="b-ENST00000460407"><ellipse class="r" cx="457" cy="2952" rx="13" ry="15"/><text class="s2" x="457" y="2961">ENST00000460407</text></g>
<g id="b-ENST00000416200"><ellipse class="r" cx="863" cy="2973" rx="13" ry="15"/><text class="s2" x="863" y="2982">ENST00000416200</text></g>
<g id="b-ENST00000532579"><ellipse class="r" cx="662" cy="3030" rx="13" ry="15"/><text class="s2" x="662" y="3039">ENST00000532579</text></g>
<g id="b-SFRP2"><circle class="g" cx="686" cy="2565" r="46"/><text class="h2" x="686" y="2574">SFRP2</text></g>
<!-- WNT11 -->
<g id="w-ENST00000478818"><ellipse class="r" cx="1683" cy="2111" rx="13" ry="15"/><text class="s2" x="1683" y="2120">ENST00000478818</text></g>
<g id="w-uc002sgc.3"><ellipse class="r" cx="1981" cy="2259" rx="13" ry="15"/><text class="s2" x="1981" y="2268">uc002sgc.3</text></g>
<g id="w-ENST00000562415"><ellipse class="r" cx="1406" cy="2299" rx="13" ry="15"/><text class="s2" x="1406" y="2308">ENST00000562415</text></g>
<g id="w-ENST00000438158"><ellipse class="r" cx="1999" cy="2587" rx="13" ry="15"/><text class="s2" x="1999" y="2596">ENST00000438158</text></g>
<g id="w-ENST00000573177"><ellipse class="r" cx="1432" cy="2632" rx="13" ry="15"/><text class="s2" x="1432" y="2641">ENST00000573177</text></g>
<g id="w-ENST00000430825"><ellipse class="r" cx="1730" cy="2772" rx="13" ry="15"/><text class="s2" x="1730" y="2781">ENST00000430825</text></g>
<g id="w-WNT11"><circle class="g" cx="1707" cy="2443" r="43"/><text class="h2" x="1707" y="2452" style="font-size:26px">WNT11</text></g>
</svg>
